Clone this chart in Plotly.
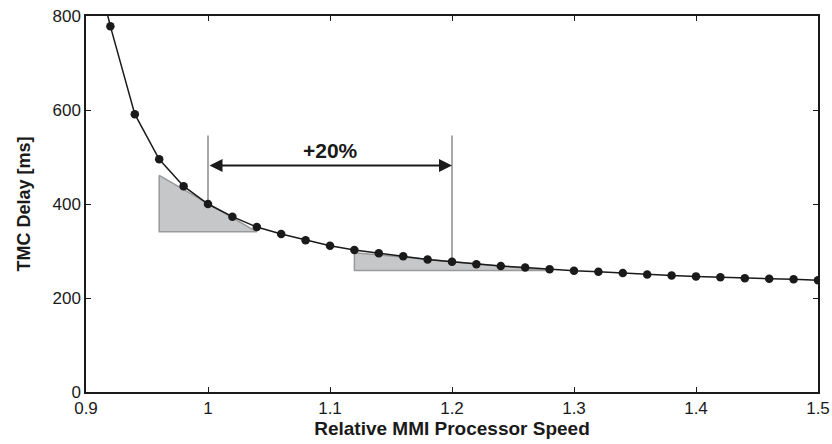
import plotly.graph_objects as go

speed = [0.90, 0.92, 0.94, 0.96, 0.98, 1.00, 1.02, 1.04, 1.06, 1.08, 1.10,
         1.12, 1.14, 1.16, 1.18, 1.20, 1.22, 1.24, 1.26, 1.28, 1.30,
         1.32, 1.34, 1.36, 1.38, 1.40, 1.42, 1.44, 1.46, 1.48, 1.50]
delay = [990, 778, 591, 495, 438, 400, 373, 351, 336, 323, 311,
         302, 295, 289, 282, 277, 272, 268, 265, 261, 258,
         256, 253, 250, 248, 246, 244, 242, 241, 240, 238]

# tangent triangles
tri1_x = [0.96, 0.96, 1.04, 0.96]
tri1_y = [461, 341, 341, 461]
tri2_x = [1.12, 1.12, 1.28, 1.12]
tri2_y = [296.5, 258.5, 258.5, 296.5]

# reference markers (+20%)
ref_x = [1.0, 1.2]
ref_top = 546
ref_bottom = [400, 277]
arrow_y = 482
label_y = 514
label_text = "+20%"

x_ticks = [0.9, 1.0, 1.1, 1.2, 1.3, 1.4, 1.5]
x_tick_text = ["0.9", "1", "1.1", "1.2", "1.3", "1.4", "1.5"]
y_ticks = [0, 200, 400, 600, 800]

FONT = "Liberation Sans, Arial, Helvetica"
INK = "#1a1a1a"

fig = go.Figure()
for tx, ty in [(tri1_x, tri1_y), (tri2_x, tri2_y)]:
    fig.add_trace(go.Scatter(x=tx, y=ty, mode="lines", fill="toself",
                             fillcolor="#c6c7c9", line=dict(color="#9a9a9a", width=1.5),
                             hoverinfo="skip", showlegend=False))
for rx, rb in zip(ref_x, ref_bottom):
    fig.add_trace(go.Scatter(x=[rx, rx], y=[ref_top, rb], mode="lines",
                             line=dict(color="#8c8c8c", width=1.5),
                             hoverinfo="skip", showlegend=False))
fig.add_trace(go.Scatter(x=speed, y=delay, mode="lines+markers",
                         line=dict(color=INK, width=1.5),
                         marker=dict(color=INK, size=8.5),
                         showlegend=False))

fig.add_annotation(x=ref_x[1], y=arrow_y, ax=ref_x[0], ay=arrow_y,
                   xref="x", yref="y", axref="x", ayref="y", text="",
                   showarrow=True, arrowhead=2, arrowsize=1.3, arrowwidth=2,
                   arrowside="end+start", arrowcolor=INK)
fig.add_annotation(x=sum(ref_x) / 2, y=label_y, xref="x", yref="y",
                   text="<b>" + label_text + "</b>", showarrow=False,
                   font=dict(size=21, color=INK, family=FONT))

axis_common = dict(showline=True, linecolor=INK, linewidth=1.5,
                   mirror="ticks", ticks="inside", ticklen=5, tickcolor=INK,
                   showgrid=False, zeroline=False, automargin=False,
                   ticklabeloverflow="allow",
                   tickfont=dict(size=17, color=INK, family=FONT))

fig.update_xaxes(range=[0.9, 1.5], tickvals=x_ticks, ticktext=x_tick_text,
                 title=dict(text="<b>Relative MMI Processor Speed</b>", standoff=2,
                            font=dict(size=19, color=INK, family=FONT)),
                 **axis_common)
fig.update_yaxes(range=[0, 800], tickvals=y_ticks,
                 title=dict(text="<b>TMC Delay [ms]</b>", standoff=17,
                            font=dict(size=18, color=INK, family=FONT)),
                 **axis_common)

fig.update_layout(width=832, height=444, margin=dict(l=86, r=14, t=16, b=52),
                  plot_bgcolor="white", paper_bgcolor="white")

fig.write_html("out.html",
               config={"displayModeBar": False},
               post_script="document.body.style.margin='0';"
                           "document.body.style.overflow='hidden';")
